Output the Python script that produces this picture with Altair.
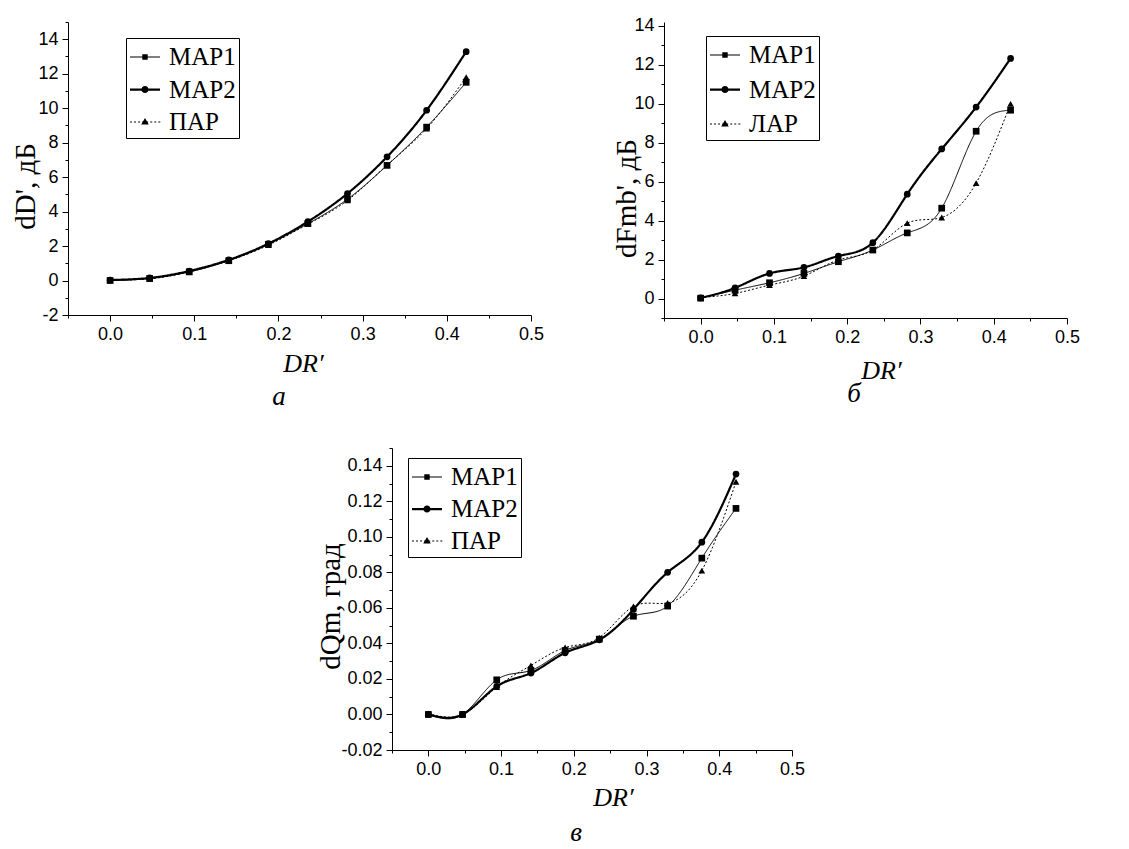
import altair as alt
import pandas as pd

# ---- data ----
DR = [0.0, 0.047, 0.094, 0.141, 0.188, 0.235, 0.282, 0.329, 0.376, 0.423]

NAMES_A = ["МАР1", "МАР2", "ПАР"]
A_MAP1 = [0.0, 0.12, 0.5, 1.15, 2.1, 3.3, 4.72, 6.68, 8.9, 11.5]
A_MAP2 = [0.03, 0.15, 0.55, 1.2, 2.14, 3.42, 5.05, 7.18, 9.88, 13.28]
A_PAR = [0.05, 0.1, 0.5, 1.15, 2.05, 3.27, 4.65, 6.7, 8.82, 11.8]

NAMES_B = ["МАР1", "МАР2", "ЛАР"]
B_MAP1 = [0.02, 0.43, 0.81, 1.29, 1.89, 2.49, 3.37, 4.64, 8.59, 9.67]
B_MAP2 = [0.03, 0.55, 1.29, 1.6, 2.18, 2.87, 5.36, 7.68, 9.83, 12.33]
B_LAR = [0.05, 0.26, 0.69, 1.15, 1.98, 2.49, 3.87, 4.16, 5.93, 10.0]

NAMES_C = ["МАР1", "МАР2", "ПАР"]
C_MAP1 = [0.0, 0.0, 0.0195, 0.0248, 0.036, 0.0424, 0.0553, 0.061, 0.088, 0.116]
C_MAP2 = [0.0, 0.0, 0.0158, 0.0233, 0.0347, 0.042, 0.0591, 0.080, 0.097, 0.1353]
C_PAR = [0.0005, 0.0, 0.0154, 0.0276, 0.0377, 0.0433, 0.0608, 0.0628, 0.081, 0.131]

X_TICKS = [-0.05, 0.0, 0.05, 0.1, 0.15, 0.2, 0.25, 0.3, 0.35, 0.4, 0.45, 0.5]
YA_TICKS = list(range(-2, 16))
YB_TICKS = list(range(-1, 15))
YC_TICKS = [-0.02, -0.01, 0.0, 0.01, 0.02, 0.03, 0.04, 0.05, 0.06, 0.07, 0.08,
            0.09, 0.10, 0.11, 0.12, 0.13, 0.14, 0.15]

# line styles per series: (stroke width, dash)
STYLES = [(1, [1, 0]), (2.2, [1, 0]), (1, [2, 2])]


# legend symbols (unit box -1..1, symbol size 900 -> 1 unit = 15 px):
# a filled bar for the line plus the marker, all filled shapes
def _bar(x0, x1, h):
    return f"M{x0:.3f},{-h:.3f}H{x1:.3f}V{h:.3f}H{x0:.3f}Z"


SYM_SQ = _bar(-1, 1, 0.035) + "M-0.18,-0.18H0.18V0.18H-0.18Z"
SYM_CI = _bar(-1, 1, 0.075) + "M0.24,0A0.24,0.24,0,1,1,-0.24,0A0.24,0.24,0,1,1,0.24,0Z"
SYM_TR = "".join(_bar(-1 + k * 0.27, -1 + k * 0.27 + 0.13, 0.035) for k in range(8)) + \
    "M0,-0.27L0.25,0.17H-0.25Z"

SERIF = "Liberation Serif"
SANS = "Liberation Sans"


def panel(names, series, ydom, yticks, ymajor_test, yfmt, width, height,
          ytitle, ytx, yty, xtx, xty, legx, legy, rowpad, sub, subdx, suboff):
    rows = []
    for name, vals in zip(names, series):
        for x, v in zip(DR, vals):
            rows.append({"DR": x, "v": v, "s": name, "lg": name})
    df = pd.DataFrame(rows)

    xmajor = "abs(datum.value*10 - round(datum.value*10)) < 0.001"
    x_axis = alt.Axis(
        values=X_TICKS,
        labelExpr=f"({xmajor}) && datum.value > -0.01 ? format(datum.value, '.1f') : ''",
        tickSize={"condition": {"test": f"!({xmajor})", "value": 3}, "value": 6},
        labelFlush=False, labelOverlap=False, labelPadding=4,
        title="DR′", titleFontStyle="italic", titleX=xtx, titleY=xty,
        titleAlign="center", titleBaseline="alphabetic", titleAngle=0, titleFontSize=26,
    )
    y_axis = alt.Axis(
        values=yticks,
        labelExpr=f"({ymajor_test}) ? replace(format(datum.value, '{yfmt}'), '\u2212', '-') : ''",
        tickSize={"condition": {"test": f"!({ymajor_test})", "value": 3}, "value": 6},
        labelFlush=False, labelOverlap=False, labelPadding=4,
        title=ytitle, titleX=ytx, titleY=yty, titleAngle=270,
        titleAlign="center", titleBaseline="middle", titleFontSize=29,
    )
    X = alt.X("DR:Q", scale=alt.Scale(domain=[-0.05, 0.5], nice=False, zero=False), axis=x_axis)
    Y = alt.Y("v:Q", scale=alt.Scale(domain=ydom, nice=False, zero=False), axis=y_axis)

    base = alt.Chart(df)
    layers = []
    for name, (w, dash) in zip(names, STYLES):
        layers.append(
            base.transform_filter(alt.datum.s == name)
            .mark_line(color="black", interpolate="natural", strokeWidth=w, strokeDash=dash)
            .encode(x=X, y=Y)
        )
    layers.append(
        base.mark_point(filled=True, color="black", size=45, opacity=1).encode(
            x=X, y=Y,
            shape=alt.Shape("s:N", scale=alt.Scale(domain=names, range=["square", "circle", "triangle-up"]),
                            legend=None),
        )
    )
    leg = alt.Legend(
        title=None, orient="none", legendX=legx, legendY=legy, direction="vertical",
        symbolSize=900, symbolOpacity=1, symbolOffset=0,
        labelFont=SERIF, labelFontSize=25, labelColor="black", labelOffset=8, labelLimit=0,
        strokeColor="black", padding=3, rowPadding=rowpad,
    )
    layers.append(
        base.transform_filter("false").mark_point(filled=True, color="black", opacity=1).encode(
            x=X, y=Y,
            shape=alt.Shape("lg:N", scale=alt.Scale(domain=names, range=[SYM_SQ, SYM_CI, SYM_TR]), legend=leg),
        )
    )
    return alt.layer(*layers).resolve_scale(shape="independent").properties(
        width=width, height=height,
        title=alt.TitleParams(text=sub, orient="bottom", anchor="start", frame="group", dx=subdx,
                              offset=suboff, font=SERIF, fontSize=27, fontStyle="italic",
                              fontWeight="normal", color="black", align="center"),
    )


pa = panel(NAMES_A, [A_MAP1, A_MAP2, A_PAR], [-2, 15], YA_TICKS, "datum.value % 2 == 0", "d",
           463, 293, "dD', дБ", -43, 164, 235, 56, 58, 16, 3.5, "а", 211, 8)
pb = panel(NAMES_B, [B_MAP1, B_MAP2, B_LAR], [-1, 14.2], YB_TICKS,
           "datum.value % 2 == 0 && datum.value >= 0", "d",
           403, 296, "dFmb', дБ", -38, 176, 217, 60, 42, 14, 5.5, "б", 190, -2)
pc = panel(NAMES_C, [C_MAP1, C_MAP2, C_PAR], [-0.02, 0.15], YC_TICKS,
           "abs(datum.value*50 - round(datum.value*50)) < 0.001", ".2f",
           400, 302, "dQm, град", -62, 158, 221, 55, 16, 10, 3, "в", 184, 10)

spacer = alt.Chart(pd.DataFrame({"a": [0]})).mark_point(opacity=0).encode(
    x=alt.X("a:Q", axis=None), y=alt.Y("a:Q", axis=None)
).properties(width=324, height=10)

chart = alt.vconcat(
    alt.hconcat(pa, pb, spacing=133, bounds="flush"),
    alt.hconcat(spacer, pc, spacing=0, bounds="flush"),
    spacing=29,
).properties(
    padding={"left": 3, "top": 5, "right": 5, "bottom": 0}
).configure_view(stroke=None).configure_axis(
    labelFont=SANS, labelFontSize=18, labelColor="black",
    titleFont=SERIF, titleFontWeight="normal", titleColor="black",
    domainColor="black", domainWidth=1, tickColor="black", tickWidth=1, grid=False,
)

chart.save("out.html", embed_options={"renderer": "svg", "actions": False})
